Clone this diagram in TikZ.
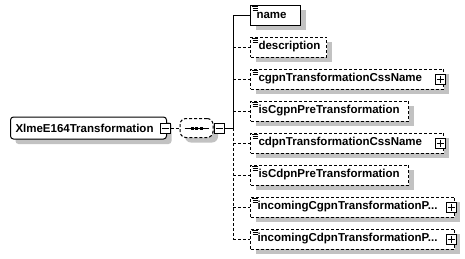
\documentclass[tikz,border=0pt]{standalone}
\usepackage{fontspec}
\setmainfont{Liberation Sans}
\usetikzlibrary{calc}
\begin{document}
\begin{tikzpicture}[x=1pt,y=-1pt,
  lw/.style={line width=1pt},
  dsh/.style={dash pattern=on 3pt off 2pt},
  drop/.style={preaction={fill=black!24, transform canvas={xshift=5pt,yshift=-5pt}}},
  elem/.style={lw, draw, fill=white, drop, anchor=west, minimum height=20pt,
    inner xsep=0pt, inner ysep=0pt, align=left,
    font=\bfseries\fontsize{11.5}{13}\selectfont},
  optelem/.style={elem, dsh},
  toggle/.style={lw, draw, fill=white, minimum size=10pt, inner sep=0pt},
  icon/.style={line width=0.8pt},
  conn/.style={lw},
  optconn/.style={lw, dsh}]
\useasboundingbox (0,0) rectangle (465,258);

% root element
\node[elem, rounded corners=3pt, minimum height=22pt, text width=156pt] (root) at (10,128)
  {\hspace*{5pt}XlmeE164Transformation};
\node[toggle] (rootm) at (165,128) {};
\draw[lw] ($(rootm.west)+(2,0)$) -- ($(rootm.east)+(-2,0)$);

% sequence compositor
\node[lw, draw, dsh, fill=white, drop, rounded corners=6pt, minimum width=33pt,
  minimum height=19pt, inner sep=0pt] (seq) at (196.5,128) {};
\draw[lw] ($(seq.center)+(-12,0)$) -- ($(seq.center)+(12,0)$);
\foreach \dx in {-4.5,0,4.5}
  \fill ($(seq.center)+(\dx-1.5,-1.5)$) rectangle ++(3,3);
\node[toggle] (seqm) at (219,128) {};
\draw[lw] ($(seqm.west)+(2,0)$) -- ($(seqm.east)+(-2,0)$);
\draw[optconn] (rootm.east) -- (seq.west);

% child elements
\node[elem, text width=50pt] (name) at (250,15) {\hspace*{6pt}name};
\node[optelem, text width=76pt] (description) at (250,47) {\hspace*{8pt}description};
\node[optelem, text width=193pt] (cgpn) at (250,79) {\hspace*{8pt}cgpnTransformationCssName};
\node[optelem, text width=158pt] (iscgpn) at (250,111) {\hspace*{8pt}isCgpnPreTransformation};
\node[optelem, text width=193pt] (cdpn) at (250,143) {\hspace*{8pt}cdpnTransformationCssName};
\node[optelem, text width=158pt] (iscdpn) at (250,175) {\hspace*{8pt}isCdpnPreTransformation};
\node[optelem, text width=204pt] (incgpn) at (250,207) {\hspace*{7pt}incomingCgpnTransformationP...};
\node[optelem, text width=204pt] (incdpn) at (250,239) {\hspace*{7pt}incomingCdpnTransformationP...};

% element icons
\foreach \n in {name,description,cgpn,iscgpn,cdpn,iscdpn,incgpn,incdpn} {
  \draw[icon] ($(\n.north west)+(1.5,1.5)$) -- ++(6,0);
  \draw[icon] ($(\n.north west)+(2.5,3.5)$) -- ++(5,0);
  \draw[icon] ($(\n.north west)+(2.5,5.5)$) -- ++(5,0);
}

% expand boxes
\foreach \n in {cgpn,cdpn,incgpn,incdpn} {
  \node[toggle] (\n p) at ($(\n.east)+(-4,0)$) {};
  \draw[lw] ($(\n p.west)+(2,0)$) -- ($(\n p.east)+(-2,0)$);
  \draw[lw] ($(\n p.north)+(0,2)$) -- ($(\n p.south)+(0,-2)$);
}

% connectors
\coordinate (vtop) at (233,15);
\coordinate (vmid) at (233,128);
\coordinate (vbot) at (233,239);
\draw[conn] (seqm.east) -- (vmid);
\draw[conn] (vtop) -- (vmid);
\draw[optconn] (vmid) -- (vbot);
\draw[conn] (vtop) -- (name.west);
\foreach \n in {description,cgpn,iscgpn,cdpn,iscdpn,incgpn,incdpn}
  \draw[optconn] (vtop |- \n.west) -- (\n.west);
\end{tikzpicture}
\end{document}
